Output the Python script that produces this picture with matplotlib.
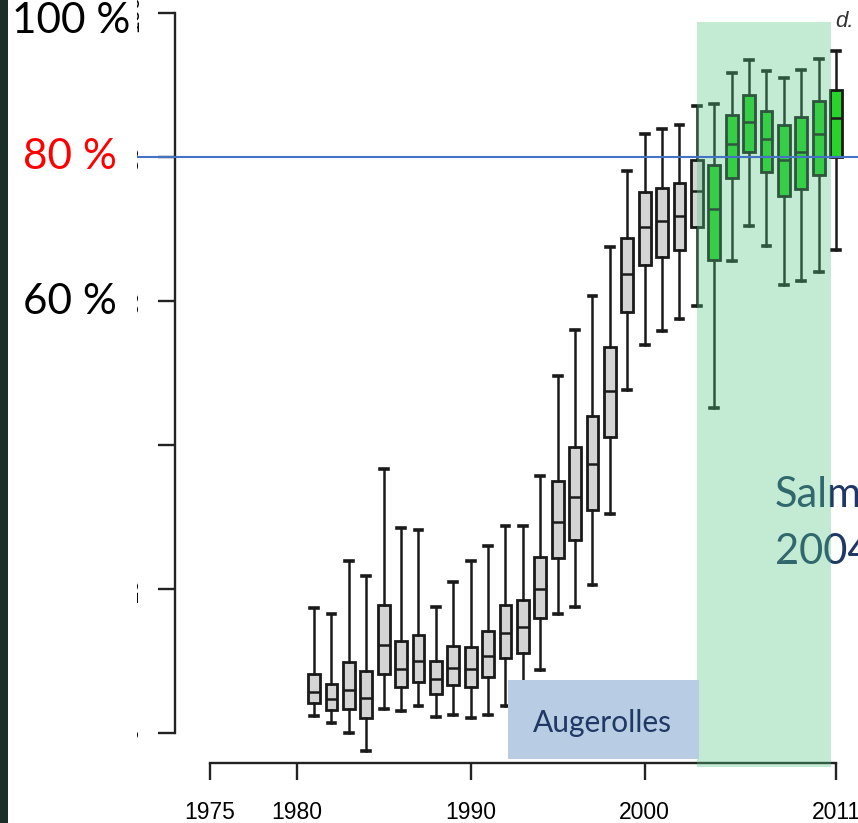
import matplotlib
matplotlib.use("Agg")
import matplotlib.pyplot as plt
from matplotlib.patches import Rectangle
import matplotlib.transforms as mtransforms

# yearly distributions (percent)
years = list(range(1981, 2012))
whislo = [2.4, 1.4, 0.0, -2.5, 3.4, 3.1, 3.8, 2.3, 2.5, 2.1, 2.5, 3.75, 4.0, 8.8,
          16.6, 17.5, 20.6, 30.5, 47.7, 53.9, 55.9, 57.5, 59.3,
          45.2, 65.6, 70.5, 67.7, 62.3, 62.9, 64.1, 67.1]
q1 = [4.2, 3.3, 3.4, 2.1, 8.3, 6.4, 7.2, 5.5, 6.7, 6.5, 7.9, 10.5, 11.2, 16.1,
      24.4, 26.8, 31.1, 41.2, 58.5, 65.0, 66.1, 67.1, 70.3,
      65.7, 77.1, 80.7, 77.9, 74.7, 75.6, 77.6, 80.0]
med = [5.8, 4.8, 6.0, 4.9, 12.3, 9.0, 10.0, 7.6, 9.1, 9.0, 10.8, 14.0, 14.8, 20.0,
       29.3, 32.9, 37.4, 47.5, 63.8, 70.3, 71.2, 71.9, 75.3,
       72.8, 81.8, 84.9, 82.5, 79.7, 80.7, 83.2, 85.4]
q3 = [8.2, 6.9, 9.9, 8.7, 17.9, 12.9, 13.7, 10.0, 12.1, 12.0, 14.3, 17.8, 18.6, 24.5,
      35.1, 39.8, 44.1, 53.7, 68.8, 75.2, 75.8, 76.5, 79.7,
      78.9, 85.9, 88.7, 86.4, 84.5, 85.6, 87.8, 89.4]
whishi = [17.4, 16.6, 23.9, 21.8, 36.7, 28.5, 28.2, 17.5, 21.1, 24.0, 26.1, 28.8, 28.8, 35.7,
          49.6, 56.0, 60.8, 67.5, 78.1, 83.3, 84.0, 84.5, 87.2,
          87.4, 91.7, 93.5, 92.0, 91.0, 92.1, 93.6, 94.7]

xticks = [1975, 1980, 1990, 2000, 2011]
yticks = [0, 20, 40, 60, 80, 100]
ytick_labels = ["0", "20", "40", "60", "80", "100"]

pct_values = [100, 80, 60]
pct_labels = ["100 %", "80 %", "60 %"]
pct_colors = ["black", "red", "black"]

target = 80
first_green_year = 2004
salm_span = (2003.0, 2010.72)
augerolles_span = (1992.16, 2003.14)

W, H = 858, 823
fig = plt.figure(figsize=(W / 100, H / 100), dpi=100, facecolor="white")
ax = fig.add_axes([0, 0, 1, 1])
ax.set_facecolor("none")
ax.set_xlim(1962.95, 2012.26)
ax.set_ylim(-12.43, 101.85)

stats = [dict(whislo=a, q1=b, med=c, q3=d, whishi=e)
         for a, b, c, d, e in zip(whislo, q1, med, q3, whishi)]
ink = "#1a1a1a"
bp = ax.bxp(stats, positions=years, widths=0.67, capwidths=0.45, patch_artist=True,
            showfliers=False, manage_ticks=False,
            boxprops=dict(linewidth=2.0, edgecolor=ink),
            whiskerprops=dict(linewidth=1.8, color=ink),
            capprops=dict(linewidth=2.6, color=ink),
            medianprops=dict(linewidth=1.8, color=ink))
for yr, box in zip(years, bp["boxes"]):
    box.set_facecolor("#26d42a" if yr >= first_green_year else "#d4d4d4")

# axes in R style
for s in ["top", "right"]:
    ax.spines[s].set_visible(False)
ax.spines["left"].set_position(("data", 1973.03))
ax.spines["left"].set_bounds(0, 100)
ax.spines["bottom"].set_position(("data", -4.125))
ax.spines["bottom"].set_bounds(1975, 2011)
for s in ["left", "bottom"]:
    ax.spines[s].set_linewidth(1.7)
    ax.spines[s].set_color("#222222")
ax.set_xticks(xticks)
ax.set_xticklabels([str(t) for t in xticks], fontfamily="Liberation Sans", fontsize=16.5)
ax.set_yticks(yticks)
ax.set_yticklabels(ytick_labels, rotation=90, va="center", fontfamily="Liberation Sans",
                   fontsize=16)
ax.tick_params(axis="x", length=12.5, width=1.7, color="#222222", pad=15)
ax.tick_params(axis="y", length=12.5, width=1.7, color="#222222", pad=11)

# text behind the overlay
ax.text(2007.49, 31.4, "Salm", fontfamily="Lato", fontsize=30, color="#1f3864",
        ha="left", va="baseline", zorder=3)
ax.text(2007.49, 23.6, "2004", fontfamily="Lato", fontsize=30, color="#1f3864",
        ha="left", va="baseline", zorder=3)

ax.add_patch(Rectangle((salm_span[0], -4.68), salm_span[1] - salm_span[0], 103.5,
                       facecolor=(0.33, 0.77, 0.50), alpha=0.35, edgecolor="none",
                       zorder=4))
ax.add_patch(Rectangle((augerolles_span[0], -3.61), augerolles_span[1] - augerolles_span[0],
                       11.0, facecolor="#b8cce4", edgecolor="none", zorder=5))
ax.text(sum(augerolles_span) / 2 - 0.08, 0.22, "Augerolles", fontfamily="Lato",
        fontsize=21.5, color="#1f3864", ha="center", va="baseline", zorder=6)

ax.axhline(target, xmin=137 / W, xmax=1, color="#4472c4", linewidth=1.5, zorder=7)

ax.text(2010.95, 98.1, "d.", fontfamily="Liberation Sans", fontstyle="italic",
        fontsize=16, color="#333333", ha="left", va="baseline", zorder=6)

# slide elements to the left
fig.patches.append(Rectangle((0, 0), 8 / W, 1, transform=fig.transFigure,
                             facecolor="#1b2e28", edgecolor="none", zorder=1))
fig.patches.append(Rectangle((8 / W, 0), 129 / W, 1, transform=fig.transFigure,
                             facecolor="white", edgecolor="none", zorder=1))
nudges = [-8, 0, -1]
xpos = [11.5, 22.7, 22.7]
for v, lab, col, dy, xp in zip(pct_values, pct_labels, pct_colors, nudges, xpos):
    tr = mtransforms.blended_transform_factory(fig.transFigure, ax.transData)
    tr = mtransforms.offset_copy(tr, fig=fig, y=dy, units="dots")
    fig.text(xp / W, v, lab, transform=tr, fontfamily="Lato", fontsize=30.5, color=col,
             ha="left", va="center", zorder=3)

fig.savefig("out.png", dpi=100, facecolor="white")
